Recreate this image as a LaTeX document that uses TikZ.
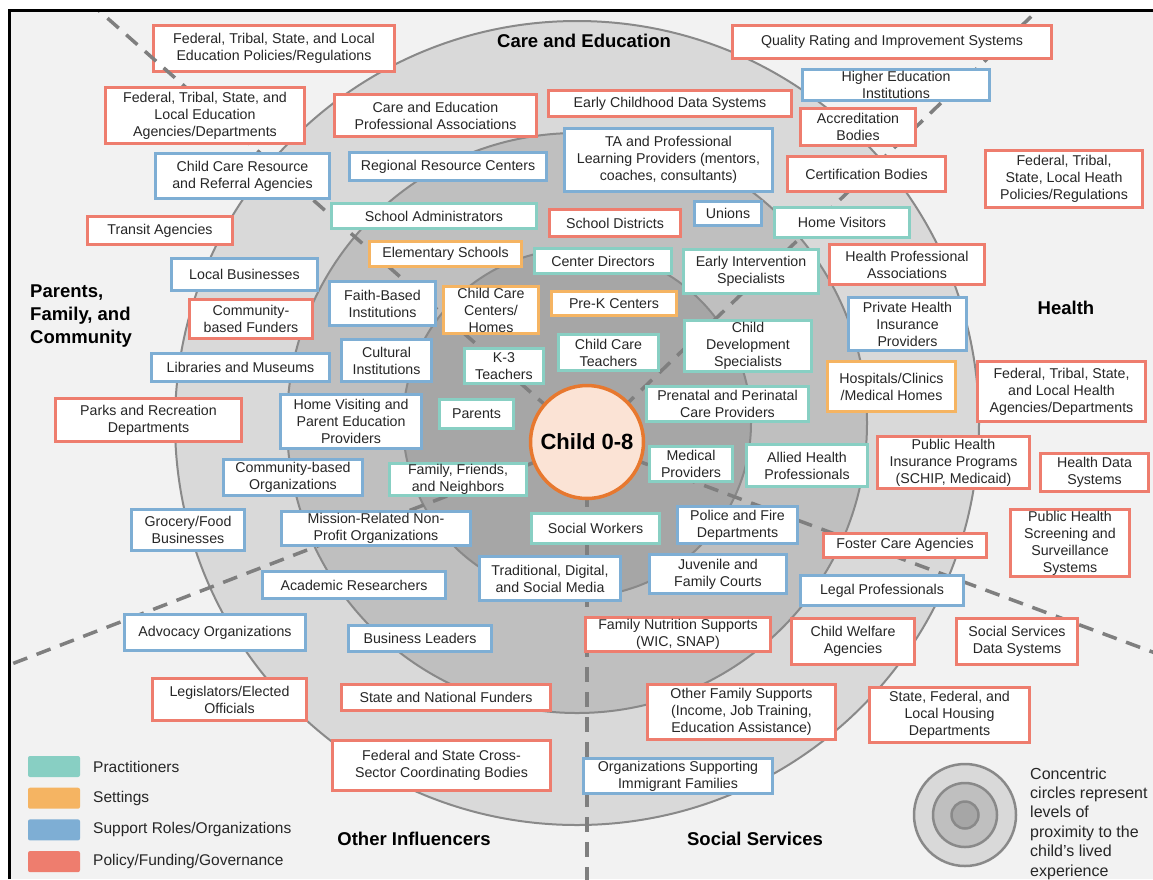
\documentclass[tikz,border=0pt]{standalone}
\usepackage{fontspec}
\setmainfont{Liberation Sans}
\usepackage{tikz}

\definecolor{pracc}{HTML}{88CFC3}
\definecolor{settc}{HTML}{F5B462}
\definecolor{suppc}{HTML}{7EAED4}
\definecolor{polic}{HTML}{EE7D6E}
\definecolor{bgc}{HTML}{F2F2F2}
\definecolor{ringa}{HTML}{D9D9D9}
\definecolor{ringb}{HTML}{BFBFBF}
\definecolor{ringc}{HTML}{A6A6A6}
\definecolor{ringline}{HTML}{898989}
\definecolor{dashc}{HTML}{7F7F7F}
\definecolor{childfill}{HTML}{FBE3D5}
\definecolor{childline}{HTML}{E7782F}
\definecolor{txtc}{HTML}{262626}

\tikzset{
    box/.style={draw, fill=white, line width=3pt, inner sep=1pt, align=center, text=txtc,
        font=\fontsize{14.2}{17}\selectfont},
    prac/.style={box, draw=pracc},
    sett/.style={box, draw=settc},
    supp/.style={box, draw=suppc},
    poli/.style={box, draw=polic},
    sz/.style 2 args={minimum width=#1pt, minimum height=#2pt},
    sector/.style={dashc, line width=3.5pt, dash pattern=on 15pt off 10pt},
    zone/.style={font=\fontsize{18.5}{23}\bfseries\selectfont, text=black, inner sep=0pt},
    swatch/.style={rectangle, minimum width=52pt, minimum height=21pt, rounded corners=2pt, inner sep=0pt},
    keytext/.style={font=\fontsize{15.5}{18}\selectfont, text=txtc, inner sep=0pt, anchor=west}
}

\begin{document}
\begin{tikzpicture}[x=1pt, y=-1pt]
        \useasboundingbox (0,0) rectangle (1153,879);
        \fill[white] (0,0) rectangle (1153,879);
        \fill[bgc] (9.5,10.5) rectangle (1153,879);
        \coordinate (ring) at (577,423);
        \coordinate (ctr) at (587,442);
        \filldraw[ringline, fill=ringa, line width=2pt] (ring) circle[radius=402pt];
        \filldraw[ringline, fill=ringb, line width=2pt] (ring) circle[radius=290pt];
        \filldraw[ringline, fill=ringc, line width=2pt] (ring) circle[radius=174pt];

        \node[poli, sz={241}{46}] (edpol) at (274,48.5) {Federal, Tribal, State, and Local\\Education Policies/Regulations};
        \begin{scope}
            \clip (11,12) rectangle (1153,879);
            \foreach \ex/\ey in {62/-22, 1085/-35, 1236/683, 587/900, -35/682}
                \draw[sector] (ctr) -- (\ex,\ey);
        \end{scope}

        \node[poli, sz={199}{56}] (edagn) at (205,115.5) {Federal, Tribal, State, and\\Local Education\\Agencies/Departments};
        \node[poli, sz={202}{42}] (profassoc) at (435.5,115.5) {Care and Education\\Professional Associations};
        \node[supp, sz={174}{45}] (ccrr) at (242.5,176) {Child Care Resource\\and Referral Agencies};
        \node[supp, sz={197}{28}] (regres) at (448,166.5) {Regional Resource Centers};
        \node[poli, sz={145}{28}] (transit) at (160,230.5) {Transit Agencies};
        \node[supp, sz={146}{32}] (localbus) at (244.5,274.5) {Local Businesses};
        \node[prac, sz={205}{25}] (schadm) at (434,216) {School Administrators};
        \node[sett, sz={152}{25}] (elem) at (445.5,254) {Elementary Schools};
        \node[poli, sz={319}{33}] (qris) at (892,42) {Quality Rating and Improvement Systems};
        \node[supp, sz={187}{31}] (higher) at (896,85) {Higher Education\\Institutions};
        \node[poli, sz={243}{26}] (ecds) at (670,103.5) {Early Childhood Data Systems};
        \node[poli, sz={115}{37}] (accred) at (858,127) {Accreditation\\Bodies};
        \node[supp, sz={208}{63}] (ta) at (668.5,160) {TA and Professional\\Learning Providers (mentors,\\coaches, consultants)};
        \node[poli, sz={158}{35}] (cert) at (866.5,174) {Certification Bodies};
        \node[poli, sz={157}{57}] (healthpol) at (1064,179) {Federal, Tribal,\\State, Local Heath\\Policies/Regulations};
        \node[poli, sz={131}{27}] (schdist) at (615,223) {School Districts};
        \node[supp, sz={67}{24}] (unions) at (728,213.5) {Unions};
        \node[prac, sz={135}{30}] (homevis) at (842,222.5) {Home Visitors};
        \node[prac, sz={137}{25}] (centdir) at (603,261) {Center Directors};
        \node[prac, sz={135}{44}] (earlyint) at (751,271.5) {Early Intervention\\Specialists};
        \node[poli, sz={155}{40}] (healthprof) at (907,264.5) {Health Professional\\Associations};
        \node[poli, sz={123}{39}] (commfund) at (251,319) {Community-\\based Funders};
        \node[supp, sz={106}{44}] (faith) at (382.5,303.5) {Faith-Based\\Institutions};
        \node[sett, sz={95}{47}] (ccch) at (491,310) {Child Care\\Centers/\\Homes};
        \node[sett, sz={125}{24}] (prek) at (614,303.5) {Pre-K Centers};
        \node[supp, sz={178}{28}] (libr) at (240.5,367.5) {Libraries and Museums};
        \node[supp, sz={90}{42}] (cultural) at (386.5,360.5) {Cultural\\Institutions};
        \node[prac, sz={79}{35}] (kthree) at (504,366) {K-3\\Teachers};
        \node[prac, sz={100}{36}] (ccteach) at (608.5,352.5) {Child Care\\Teachers};
        \node[prac, sz={127}{51}] (childdev) at (748,346) {Child\\Development\\Specialists};
        \node[supp, sz={118}{53}] (privins) at (907.5,324) {Private Health\\Insurance\\Providers};
        \node[sett, sz={128}{50}] (hosp) at (891.5,386.5) {Hospitals/Clinics\\/Medical Homes};
        \node[poli, sz={168}{60}] (healthagn) at (1061.5,391.5) {Federal, Tribal, State,\\and Local Health\\Agencies/Departments};
        \node[poli, sz={186}{43}] (parks) at (148.5,420) {Parks and Recreation\\Departments};
        \node[supp, sz={141}{54}] (homevisit) at (351,421.5) {Home Visiting and\\Parent Education\\Providers};
        \node[prac, sz={74}{29}] (parents) at (476.5,414) {Parents};
        \node[prac, sz={162}{35}] (prenatal) at (727.5,404) {Prenatal and Perinatal\\Care Providers};
        \node[supp, sz={139}{36}] (commorg) at (293,477.5) {Community-based\\Organizations};
        \node[prac, sz={137}{32}] (ffn) at (458,479.5) {Family, Friends,\\and Neighbors};
        \node[prac, sz={83}{35}] (medprov) at (691,464) {Medical\\Providers};
        \node[prac, sz={121}{42}] (allied) at (807,465.5) {Allied Health\\Professionals};
        \node[poli, sz={152}{52}] (pubins) at (953.5,462.5) {Public Health\\Insurance Programs\\(SCHIP, Medicaid)};
        \node[poli, sz={108}{38}] (healthdata) at (1094.5,472.5) {Health Data\\Systems};
        \node[supp, sz={113}{41}] (grocery) at (188,530) {Grocery/Food\\Businesses};
        \node[supp, sz={189}{34}] (mission) at (376,528.5) {Mission-Related Non-\\Profit Organizations};
        \node[prac, sz={128}{30}] (socwork) at (595.5,528.5) {Social Workers};
        \node[supp, sz={120}{37}] (police) at (737.5,525) {Police and Fire\\Departments};
        \node[poli, sz={163}{24}] (foster) at (905,545) {Foster Care Agencies};
        \node[poli, sz={119}{67}] (pubscreen) at (1070,543) {Public Health\\Screening and\\Surveillance\\Systems};
        \node[supp, sz={183}{27}] (academic) at (354,585) {Academic Researchers};
        \node[supp, sz={141}{44}] (tradmedia) at (550,578.5) {Traditional, Digital,\\and Social Media};
        \node[supp, sz={137}{39}] (juvenile) at (718,574) {Juvenile and\\Family Courts};
        \node[supp, sz={163}{30}] (legal) at (882,590.5) {Legal Professionals};
        \node[supp, sz={181}{36}] (advocacy) at (215,632.5) {Advocacy Organizations};
        \node[supp, sz={143}{26}] (busleaders) at (420,638.5) {Business Leaders};
        \node[poli, sz={185}{34}] (nutrition) at (678,634.5) {Family Nutrition Supports\\(WIC, SNAP)};
        \node[poli, sz={123}{46}] (welfare) at (853,641.5) {Child Welfare\\Agencies};
        \node[poli, sz={121}{46}] (ssdata) at (1017,641.5) {Social Services\\Data Systems};
        \node[poli, sz={154}{42}] (legislators) at (229.5,699.5) {Legislators/Elected\\Officials};
        \node[poli, sz={209}{26}] (statefund) at (446,697.5) {State and National Funders};
        \node[poli, sz={188}{55}] (otherfam) at (741.5,712) {Other Family Supports\\(Income, Job Training,\\Education Assistance)};
        \node[poli, sz={160}{55}] (housing) at (949.5,715) {State, Federal, and\\Local Housing\\Departments};
        \node[poli, sz={218}{50}] (crosssector) at (441.5,765.5) {Federal and State Cross-\\Sector Coordinating Bodies};
        \node[supp, sz={189}{35}] (immigrant) at (678,776) {Organizations Supporting\\Immigrant Families};

        \node[circle, draw=childline, fill=childfill, line width=3.5pt, minimum size=113pt, inner sep=0pt,
            font=\fontsize{22}{26}\bfseries\selectfont] (child) at (ctr) {Child 0-8};

        \node[zone] (care) at (584,41) {Care and Education};
        \node[zone] (health) at (1066,308) {Health};
        \node[zone, anchor=west, align=left] (family) at (30,316) {Parents,\\Family, and\\Community};
        \node[zone] (other) at (414,838.5) {Other Influencers};
        \node[zone] (social) at (755,838.5) {Social Services};

        \foreach \c/\t [count=\i from 0] in {pracc/Practitioners, settc/Settings, suppc/{Support Roles/Organizations}, polic/{Policy/Funding/Governance}}
        {
            \node[swatch, fill=\c] (key-\i) at (54,{766.5+31.7*\i}) {};
            \node[keytext] (keylbl-\i) at (93,{766.5+31.7*\i}) {\t};
        }

        \coordinate (icon) at (965,815);
        \filldraw[ringline, fill=ringa, line width=2.5pt] (icon) circle[radius=51pt];
        \filldraw[ringline, fill=ringb, line width=2.5pt] (icon) circle[radius=32pt];
        \filldraw[ringline, fill=ringc, line width=2.5pt] (icon) circle[radius=13.5pt];
        \node[anchor=west, align=left, inner sep=0pt, text=txtc, font=\fontsize{16}{19.4}\selectfont] (note) at (1030,823.5)
            {Concentric\\circles represent\\levels of\\proximity to the\\child’s lived\\experience};

        \draw[line width=3pt] (9.5,879) -- (9.5,10.5) -- (1153,10.5);
\end{tikzpicture}
\end{document}
